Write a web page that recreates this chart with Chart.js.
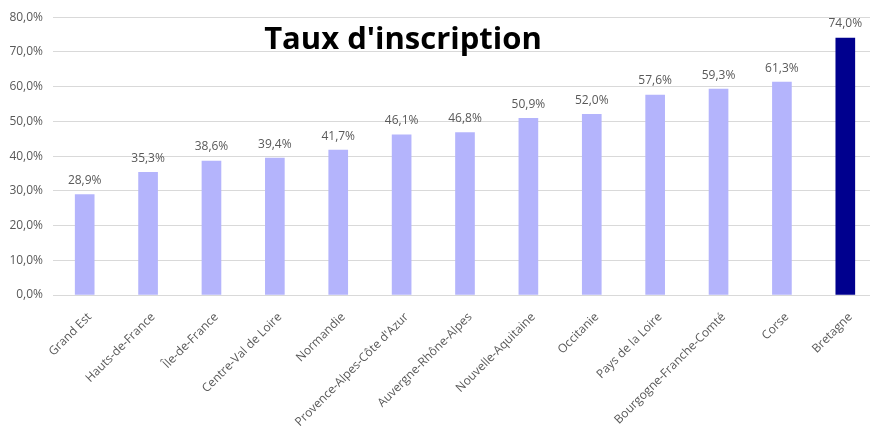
<!DOCTYPE html>
<html>
<head>
<meta charset="utf-8">
<script src="https://cdn.jsdelivr.net/npm/chart.js@4"></script>
<style>
  body { margin: 0; background: #fff; overflow: hidden; }
  #wrap { position: relative; width: 870px; height: 432px; overflow: hidden; }
  #title {
    position: absolute; left: 0; width: 806px; top: 16px;
    text-align: center; font: bold 31px "Open Sans", sans-serif; color: #000;
  }
</style>
</head>
<body>
<div id="wrap">
  <canvas id="chart" width="877" height="432"></canvas>
  <div id="title">Taux d'inscription</div>
</div>
<script>
// Regions and enrolment rates (%)
const regions = [
  "Grand Est", "Hauts-de-France", "Île-de-France", "Centre-Val de Loire",
  "Normandie", "Provence-Alpes-Côte d'Azur", "Auvergne-Rhône-Alpes",
  "Nouvelle-Aquitaine", "Occitanie", "Pays de la Loire",
  "Bourgogne-Franche-Comté", "Corse", "Bretagne"
];
const rates = [28.9, 35.3, 38.6, 39.4, 41.7, 46.1, 46.8, 50.9, 52.0, 57.6, 59.3, 61.3, 74.0];
const highlighted = "Bretagne";

const fmt = v => v.toFixed(1).replace(".", ",") + "%";

// value labels above each bar
const barLabels = {
  id: "barLabels",
  afterDatasetsDraw(chart) {
    const ctx = chart.ctx;
    const meta = chart.getDatasetMeta(0);
    ctx.save();
    ctx.fillStyle = "#595959";
    ctx.font = "12px 'Open Sans', sans-serif";
    ctx.textAlign = "center";
    ctx.textBaseline = "bottom";
    meta.data.forEach((bar, i) => {
      ctx.fillText(fmt(rates[i]), bar.x, bar.y - 8);
    });
    ctx.restore();
  }
};

new Chart(document.getElementById("chart"), {
  type: "bar",
  data: {
    labels: regions,
    datasets: [{
      data: rates,
      backgroundColor: regions.map(r => r === highlighted ? "#00008e" : "#b4b4fc"),
      barThickness: 19
    }]
  },
  options: {
    responsive: false,
    animation: false,
    layout: { padding: { top: 15, right: 0, left: 0, bottom: 0 } },
    plugins: { legend: { display: false }, tooltip: { enabled: false } },
    scales: {
      x: {
        grid: { display: false },
        border: { color: "#d9d9d9" },
        ticks: {
          color: "#595959",
          font: { family: "'Open Sans', sans-serif", size: 12 },
          minRotation: 45, maxRotation: 45,
          autoSkip: false, padding: 7, labelOffset: 5
        },
        afterFit(scale) { scale.height = 137; }
      },
      y: {
        min: 0, max: 80,
        ticks: {
          stepSize: 10,
          color: "#595959",
          font: { family: "'Open Sans', sans-serif", size: 12 },
          padding: 10,
          callback: v => fmt(v)
        },
        grid: { color: "#d9d9d9", drawTicks: false },
        border: { display: false },
        afterFit(scale) { scale.width = 53; }
      }
    }
  },
  plugins: [barLabels]
});
</script>
</body>
</html>
